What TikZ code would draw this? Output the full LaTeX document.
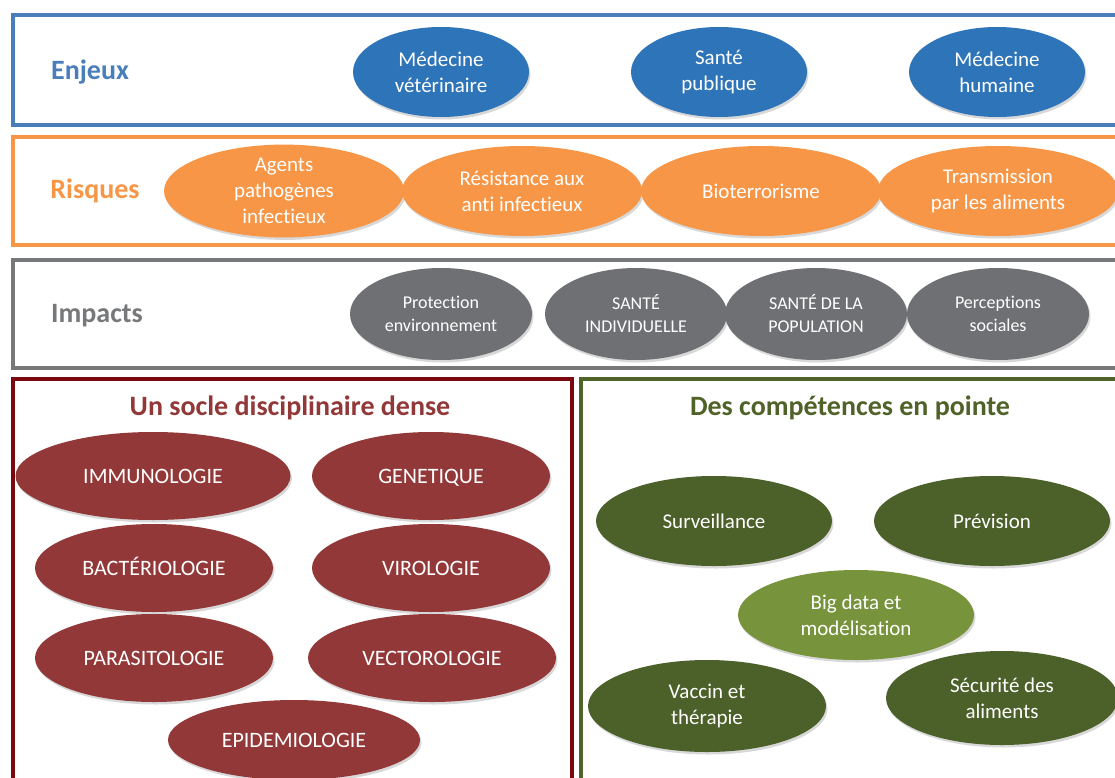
\documentclass[tikz,border=0pt]{standalone}
\usepackage{fontspec}
\setmainfont{Carlito}[Ligatures={NoCommon}]
\usetikzlibrary{shapes.geometric,shadows}

\definecolor{enjeuxline}{RGB}{74,126,187}
\definecolor{enjeuxfill}{RGB}{46,116,184}
\definecolor{risqueorange}{RGB}{247,150,70}
\definecolor{impactline}{RGB}{118,120,122}
\definecolor{impactfill}{RGB}{110,112,115}
\definecolor{socleline}{RGB}{122,8,14}
\definecolor{soclefill}{RGB}{146,56,56}
\definecolor{competline}{RGB}{79,98,40}
\definecolor{competfill}{RGB}{76,96,42}
\definecolor{competlight}{RGB}{119,147,60}

\begin{document}
\begin{tikzpicture}[x=1pt,y=-1pt]
  \tikzset{band/.style={draw=#1,line width=3.5pt,fill=white,drop shadow={opacity=0.2,shadow xshift=1pt,shadow yshift=-2pt}}}
  \tikzset{bubble/.style={ellipse,fill=#1,inner sep=0pt,text=white,align=center,drop shadow={opacity=0.3,shadow xshift=1.5pt,shadow yshift=-2.5pt}}}
  \tikzset{band title/.style={text=#1,font=\bfseries\fontsize{28}{33}\selectfont}}
  \tikzset{box title/.style={text=#1,font=\bfseries\fontsize{28}{33}\selectfont}}

  \clip (0,0) rectangle (1115,778);
  \fill[white] (0,0) rectangle (1115,778);

  % frames
  \draw[band=enjeuxline] (13,15) rectangle (1135,125);
  \draw[band=risqueorange] (13,137) rectangle (1135,245);
  \draw[band=impactline] (13,260) rectangle (1135,368);
  \draw[band=socleline] (13,379) rectangle (572,800);
  \draw[band=competline] (581,379) rectangle (1135,800);

  % Enjeux
  \node[band title=enjeuxline] (enjeux) at (90,72) {Enjeux};
  \begin{scope}[every node/.append style={bubble=enjeuxfill,minimum width=176pt,minimum height=90pt,font=\fontsize{21}{26}\selectfont}]
    \node (vet) at (441,72) {Médecine\\vétérinaire};
    \node (pub) at (719,72) {Santé\\publique};
    \node (hum) at (997,72) {Médecine\\humaine};
  \end{scope}

  % Risques
  \node[band title=risqueorange] (risques) at (95,191) {Risques};
  \begin{scope}[every node/.append style={bubble=risqueorange,minimum width=240pt,minimum height=90pt,font=\fontsize{21}{26}\selectfont}]
    \node (agents) at (284,191) {Agents\\pathogènes\\infectieux};
    \node (resist) at (522,191) {Résistance aux\\anti infectieux};
    \node (bioterr) at (761,191) {Bioterrorisme};
    \node (transm) at (998,191) {Transmission\\par les aliments};
  \end{scope}

  % Impacts
  \node[band title=impactline] (impacts) at (97,316) {Impacts};
  \begin{scope}[every node/.append style={bubble=impactfill,minimum width=182pt,minimum height=92pt,font=\fontsize{18}{23}\selectfont}]
    \node (protec) at (441,314) {Protection\\environnement};
    \node (indiv) at (636,314) {SANTÉ\\INDIVIDUELLE};
    \node (popul) at (816,314) {SANTÉ DE LA\\POPULATION};
    \node (percep) at (998,314) {Perceptions\\sociales};
  \end{scope}

  % Un socle disciplinaire dense
  \node[box title=soclefill] (socle) at (290,408) {Un socle disciplinaire dense};
  \begin{scope}[every node/.append style={bubble=soclefill,minimum width=238pt,minimum height=88pt,text height=14pt,text depth=0pt,font=\fontsize{22}{26}\selectfont}]
    \node[minimum width=275pt] (immuno) at (153,476) {IMMUNOLOGIE};
    \node (genet) at (431,476) {GENETIQUE};
    \node (bacterio) at (154,568) {BACTÉRIOLOGIE};
    \node (viro) at (431,568) {VIROLOGIE};
    \node (parasito) at (154,658) {PARASITOLOGIE};
    \node[minimum width=248pt] (vecto) at (432,658) {VECTOROLOGIE};
    \node[minimum width=252pt,minimum height=80pt] (epidem) at (294,740) {EPIDEMIOLOGIE};
  \end{scope}

  % Des competences en pointe
  \node[box title=competline] (compet) at (850,408) {Des compétences en pointe};
  \begin{scope}[every node/.append style={bubble=competfill,minimum width=236pt,minimum height=90pt,font=\fontsize{21}{26}\selectfont}]
    \node (surv) at (714,521) {Surveillance};
    \node (prev) at (992,521) {Prévision};
    \node[fill=competlight] (bigdata) at (856,615) {Big data et\\modélisation};
    \node[minimum width=238pt,minimum height=92pt] (vaccin) at (707,706) {Vaccin et\\thérapie};
    \node[minimum width=232pt,minimum height=94pt] (secu) at (1002,698) {Sécurité des\\aliments};
  \end{scope}
\end{tikzpicture}
\end{document}
